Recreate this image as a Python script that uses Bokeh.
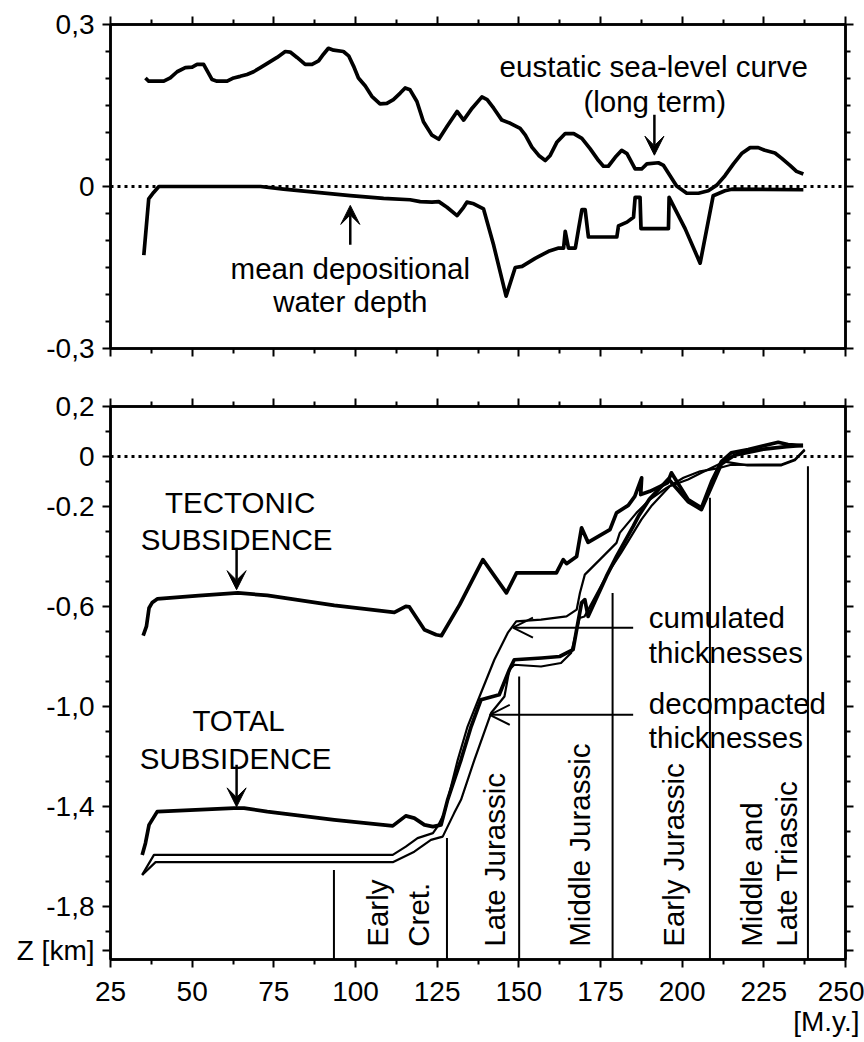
from bokeh.plotting import figure
from bokeh.models import (FixedTicker, LinearAxis, Label, Arrow, VeeHead, OpenHead,
                          Range1d, Span, ColumnDataSource, Title, CustomLabelingPolicy)
from bokeh.layouts import column
from bokeh.embed import file_html
from bokeh.resources import INLINE

FONT = "Liberation Sans"
ANN = "29.5px"
TICK = "28px"

# ---------------- axes / ticks ----------------
x_major = [25, 50, 75, 100, 125, 150, 175, 200, 225, 250]
x_minor = [37.5, 62.5, 87.5, 112.5, 137.5, 162.5, 187.5, 212.5, 237.5]
x_title = "[M.y.]"

top_y_major = [-0.3, 0.0, 0.3]
top_y_labels = ["-0,3", "0", "0,3"]
top_y_minor = [-0.25, -0.2, -0.15, -0.1, -0.05, 0.05, 0.1, 0.15, 0.2, 0.25]

bot_y_major = [0.2, 0.0, -0.2, -0.6, -1.0, -1.4, -1.8, -1.975]
bot_y_labels = ["0,2", "0", "-0.2", "-0,6", "-1,0", "-1,4", "-1,8", "Z [km]"]
bot_y_minor = [0.1, -0.1, -0.3, -0.4, -0.5, -0.7, -0.8, -0.9, -1.1, -1.2, -1.3,
               -1.5, -1.6, -1.7, -1.9]

# ---------------- top panel data ----------------
eus_age = [35.7, 36.7, 41.3, 43.3, 45.4, 47.9, 50.0, 51.5, 53.5, 56.1, 57.6, 60.7, 62.7,
           64.7, 66.8, 68.8, 70.9, 72.9, 76.0, 78.5, 80.0, 82.1, 84.6, 86.7, 88.7, 90.2,
           91.7, 93.3, 96.3, 97.9, 99.4, 100.9, 103.0, 105.0, 107.5, 109.6, 111.6, 113.7,
           115.2, 116.7, 118.8, 120.8, 123.4, 125.5, 128.0, 131.1, 133.1, 135.7, 138.7,
           140.3, 142.3, 144.8, 147.4, 150.4, 152.0, 154.0, 156.1, 158.1, 159.6, 161.7,
           164.2, 166.8, 169.3, 171.8, 174.4, 175.9, 177.4, 179.5, 181.5, 183.1, 185.6,
           187.6, 189.2, 192.7, 194.3, 196.3, 198.3, 201.4, 205.0, 208.0, 210.6, 213.1,
           215.7, 218.2, 220.8, 223.3, 225.3, 228.4, 230.4, 233.0, 235.0, 237.1]
eus_val = [0.201, 0.195, 0.195, 0.201, 0.2125, 0.22, 0.221, 0.226, 0.226, 0.198, 0.195,
           0.195, 0.201, 0.204, 0.2075, 0.2125, 0.22, 0.2275, 0.239, 0.25, 0.249, 0.239,
           0.226, 0.226, 0.2325, 0.245, 0.256, 0.2525, 0.25, 0.242, 0.223, 0.201, 0.186,
           0.167, 0.153, 0.154, 0.161, 0.173, 0.1825, 0.179, 0.1575, 0.12, 0.095, 0.0875,
           0.111, 0.139, 0.123, 0.145, 0.166, 0.161, 0.145, 0.123, 0.117, 0.1075, 0.095,
           0.073, 0.0575, 0.048, 0.0575, 0.0825, 0.098, 0.098, 0.089, 0.07, 0.048, 0.0375,
           0.0375, 0.054, 0.067, 0.061, 0.0325, 0.0325, 0.042, 0.044, 0.039, 0.02, 0.001,
           -0.0125, -0.0125, -0.008, 0.0025, 0.02, 0.042, 0.061, 0.072, 0.072, 0.067,
           0.062, 0.0525, 0.039, 0.028, 0.023]

wd_age = [35.2, 36.7, 38.2, 39.8, 62.7, 70.9, 78.0, 88.2, 98.4, 108.6, 116.7, 119.8, 123.4,
          125.5, 128.0, 131.1, 133.1, 134.1, 136.2, 139.2, 142.3, 146.1, 148.9, 151.0,
          155.0, 159.1, 162.2, 163.7, 164.2, 165.2, 167.3, 168.3, 169.3, 170.3, 171.3,
          180.0, 180.5, 183.1, 185.1, 185.6, 187.1, 187.4, 195.8, 196.0, 200.9, 205.5,
          209.5, 213.1, 215.2, 237.1]
wd_val = [-0.127, -0.023, -0.011, 0.0, 0.0, 0.0, -0.005, -0.011, -0.017, -0.022, -0.0245,
          -0.028, -0.029, -0.028, -0.0385, -0.054, -0.0385, -0.029, -0.032, -0.0415,
          -0.109, -0.203, -0.150, -0.148, -0.133, -0.12, -0.114, -0.114, -0.083, -0.114,
          -0.114, -0.078, -0.043, -0.043, -0.0935, -0.0935, -0.073, -0.066, -0.057, -0.020,
          -0.020, -0.078, -0.078, -0.020, -0.078, -0.142, -0.017, -0.008, -0.005, -0.006]

# ---------------- bottom panel data ----------------
tec_age = [35.0, 36.0, 36.8, 37.8, 39.3, 52.0, 64.0, 73.0, 93.5, 111.9, 115.4, 116.5,
           121.1, 124.7, 126.3, 131.9, 139.0, 146.2, 149.3, 161.5, 163.6, 164.6, 167.7,
           169.2, 171.2, 177.9, 179.9, 183.5, 185.5, 187.6, 187.3, 190.1, 195.5, 196.7,
           201.8, 205.9, 209.0, 212.0, 215.0, 220.2, 229.4, 232.4, 237.0]
tec_val = [-0.716, -0.679, -0.605, -0.583, -0.569, -0.556, -0.545, -0.555, -0.595, -0.623,
           -0.599, -0.601, -0.692, -0.712, -0.716, -0.592, -0.412, -0.545, -0.465, -0.465,
           -0.412, -0.428, -0.399, -0.285, -0.343, -0.292, -0.225, -0.195, -0.159, -0.085,
           -0.152, -0.139, -0.105, -0.065, -0.172, -0.205, -0.10, -0.02, 0.015, 0.028,
           0.057, 0.048, 0.044]

tot_age = [34.7, 35.7, 36.8, 39.3, 62.8, 65.9, 73.0, 93.5, 111.4, 115.4, 118.0, 121.1,
           123.7, 126.2, 128.2, 132.3, 135.4, 138.4, 144.0, 147.1, 148.6, 157.0, 162.5,
           166.6, 167.7, 169.2, 170.2, 171.2, 176.8, 179.9, 185.0, 186.6, 190.0, 195.8,
           201.8, 205.9, 209.0, 212.0, 216.0, 225.0, 232.0, 237.0]
tot_val = [-1.592, -1.545, -1.472, -1.419, -1.405, -1.405, -1.419, -1.452, -1.476, -1.436,
           -1.445, -1.472, -1.479, -1.472, -1.372, -1.212, -1.079, -0.972, -0.952, -0.852,
           -0.812, -0.805, -0.799, -0.772, -0.692, -0.585, -0.572, -0.639, -0.479, -0.399,
           -0.279, -0.239, -0.17, -0.09, -0.18, -0.212, -0.12, -0.03, 0.005, 0.03, 0.04,
           0.045]

cum_age = [34.7, 38.3, 111.4, 115.4, 119.0, 123.7, 125.1, 127.2, 131.3, 134.3, 138.4,
           142.5, 146.6, 149.2, 156.8, 164.6, 167.7, 168.7, 170.2, 174.8, 179.9, 180.9,
           186.0, 190.1, 195.2, 200.4, 205.5, 211.6, 215.0, 230.4, 234.5, 237.5]
cum_val = [-1.672, -1.592, -1.592, -1.559, -1.525, -1.505, -1.479, -1.425, -1.212, -1.079,
           -0.945, -0.812, -0.705, -0.659, -0.652, -0.639, -0.612, -0.545, -0.472, -0.412,
           -0.345, -0.305, -0.225, -0.172, -0.125, -0.085, -0.059, -0.045, -0.033, -0.032,
           -0.012, 0.028]

dec_age = [34.7, 38.8, 111.4, 118.0, 123.1, 126.7, 130.2, 132.3, 136.4, 141.5, 145.6,
           147.1, 148.6, 156.8, 162.9, 166.0, 167.5, 168.6, 170.1, 177.3, 181.3, 187.5,
           190.5, 196.2, 201.8, 205.9, 210.0, 213.0, 220.0, 230.4, 234.5, 237.5]
dec_val = [-1.672, -1.621, -1.621, -1.579, -1.532, -1.519, -1.425, -1.372, -1.212, -1.025,
           -0.959, -0.852, -0.832, -0.839, -0.825, -0.785, -0.705, -0.645, -0.639, -0.465,
           -0.385, -0.252, -0.199, -0.119, -0.092, -0.065, -0.039, -0.02, -0.035, -0.035,
           -0.015, 0.025]

# stratigraphic boundaries (age, top of line)
bnd_age = [93.4, 128.0, 150.1, 178.7, 208.5, 238.5]
bnd_top = [-1.652, -1.524, -0.879, -0.545, -0.165, -0.039]

# period labels (baseline age, text)
per_age = [106.8, 119.4, 142.6, 168.7, 197.3, 221.3, 232.0]
per_txt = ["Early", "Cret.", "Late Jurassic", "Middle Jurassic", "Early Jurassic",
           "Middle and", "Late Triassic"]
per_y = -1.959

TOP_Y = (-0.3, 0.3)
BOT_Y = (-2.01, 0.2)

HIDE = CustomLabelingPolicy(code="for (const i of indices) indices.unset(i); return indices")


def style_axis(ax, labels, overrides=None, standoff=8):
    ax.axis_line_width = 2.5
    ax.axis_line_color = "black"
    ax.major_tick_line_width = 2
    ax.minor_tick_line_width = 2
    ax.major_tick_line_color = "black"
    ax.minor_tick_line_color = "black"
    ax.major_tick_out = 8
    ax.major_tick_in = 0
    ax.minor_tick_out = 5
    ax.minor_tick_in = 0
    if labels:
        ax.major_label_text_font = FONT
        ax.major_label_text_font_size = TICK
        ax.major_label_text_color = "black"
        ax.major_label_standoff = standoff
        if overrides:
            ax.major_label_overrides = overrides
    else:
        ax.major_label_text_font_size = "0px"
        ax.major_label_standoff = 0
        ax.major_label_policy = HIDE


def make_fig(yr, frame_h, btop, bbot, ymaj, ymin, ylab_over, xlabels):
    p = figure(frame_width=735, frame_height=frame_h,
               x_range=Range1d(25, 250), y_range=Range1d(*yr),
               output_backend="svg", toolbar_location=None,
               x_axis_location=None, y_axis_location=None,
               min_border_left=110, min_border_right=19,
               min_border_top=btop, min_border_bottom=bbot)
    p.grid.grid_line_color = None
    p.outline_line_color = "black"
    p.outline_line_width = 2.5
    p.background_fill_color = "white"
    p.border_fill_color = "white"
    xt = FixedTicker(ticks=x_major, minor_ticks=x_minor)
    yt = FixedTicker(ticks=ymaj, minor_ticks=ymin)
    ax = LinearAxis(ticker=xt); style_axis(ax, xlabels, standoff=14); p.add_layout(ax, "below")
    ax = LinearAxis(ticker=xt); style_axis(ax, False); p.add_layout(ax, "above")
    ax = LinearAxis(ticker=yt); style_axis(ax, True, ylab_over, standoff=8); p.add_layout(ax, "left")
    ax = LinearAxis(ticker=yt); style_axis(ax, False); p.add_layout(ax, "right")
    p.add_layout(Span(location=0, dimension="width", line_color="black",
                      line_width=3, line_dash="3 4"))
    return p


def lab(p, x, y, text, align="center", baseline="alphabetic", size=ANN, angle=0):
    p.add_layout(Label(x=x, y=y, text=text, text_font=FONT, text_font_size=size,
                       text_align=align, text_baseline=baseline, text_color="black",
                       angle=angle, angle_units="deg"))


def vee():
    return VeeHead(size=19, fill_color="black", line_color="black", line_width=1)


def open_head():
    return OpenHead(size=20, line_width=2, line_color="black")


# ---------------- top figure ----------------
p1 = make_fig(TOP_Y, 324, 24, 31, top_y_major, top_y_minor,
              dict(zip(top_y_major, top_y_labels)), False)
p1.line(eus_age, eus_val, line_color="black", line_width=3.7, line_join="round")
p1.line(wd_age, wd_val, line_color="black", line_width=3.7, line_join="round")

lab(p1, 191.3, 0.223, "eustatic sea-level curve")
lab(p1, 191.6, 0.158, "(long term)")
lab(p1, 98.4, -0.152, "mean depositional")
lab(p1, 98.4, -0.213, "water depth")
p1.add_layout(Arrow(end=vee(), x_start=191.5, y_start=0.133, x_end=191.5, y_end=0.058,
                    line_width=2.5, line_color="black"))
p1.add_layout(Arrow(end=vee(), x_start=98.4, y_start=-0.108, x_end=98.4, y_end=-0.035,
                    line_width=2.5, line_color="black"))

# ---------------- bottom figure ----------------
p2 = make_fig(BOT_Y, 553, 27, 82, bot_y_major, bot_y_minor,
              dict(zip(bot_y_major, bot_y_labels)), True)
p2.add_layout(Title(text=x_title, align="right", text_font=FONT, text_font_size=TICK,
                    text_font_style="normal", text_color="black", standoff=0,
                    offset=-14), "below")

src_b = ColumnDataSource(dict(x=bnd_age, y0=[BOT_Y[0]] * len(bnd_age), y1=bnd_top))
p2.segment(x0="x", y0="y0", x1="x", y1="y1", source=src_b, line_color="black", line_width=2)

p2.line(cum_age, cum_val, line_color="black", line_width=2.2, line_join="round")
p2.line(dec_age, dec_val, line_color="black", line_width=2.2, line_join="round")
p2.line(tot_age, tot_val, line_color="black", line_width=3.7, line_join="round")
p2.line(tec_age, tec_val, line_color="black", line_width=3.7, line_join="round")

for a, t in zip(per_age, per_txt):
    lab(p2, a, per_y, t, align="left", baseline="alphabetic", angle=90)

lab(p2, 64.7, -0.185, "TECTONIC")
lab(p2, 63.6, -0.332, "SUBSIDENCE")
lab(p2, 64.2, -1.056, "TOTAL")
lab(p2, 63.3, -1.205, "SUBSIDENCE")
lab(p2, 189.8, -0.645, "cumulated", align="left")
lab(p2, 189.8, -0.785, "thicknesses", align="left")
lab(p2, 189.8, -0.985, "decompacted", align="left")
lab(p2, 189.8, -1.121, "thicknesses", align="left")

p2.add_layout(Arrow(end=vee(), x_start=63.6, y_start=-0.364, x_end=63.6, y_end=-0.532,
                    line_width=2.5, line_color="black"))
p2.add_layout(Arrow(end=vee(), x_start=63.6, y_start=-1.232, x_end=63.6, y_end=-1.40,
                    line_width=2.5, line_color="black"))
p2.add_layout(Arrow(end=open_head(), x_start=185.0, y_start=-0.684, x_end=148.2,
                    y_end=-0.684, line_width=2, line_color="black"))
p2.add_layout(Arrow(end=open_head(), x_start=185.0, y_start=-1.032, x_end=141.1,
                    y_end=-1.032, line_width=2, line_color="black"))

layout = column(p1, p2, spacing=0)
open("out.html", "w").write(file_html(layout, INLINE))
